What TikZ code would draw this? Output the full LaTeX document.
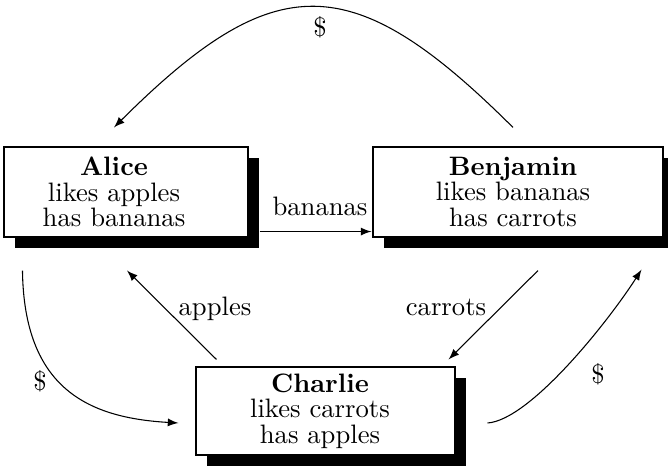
\documentclass[tikz,border=0pt]{standalone}
\usetikzlibrary{shadows}
\begin{document}
\begin{tikzpicture}[x=0.375pt,y=-0.375pt,
  box/.style={draw, fill=white, line width=0.4pt, inner sep=0pt,
    drop shadow={shadow xshift=4.125pt, shadow yshift=-4.125pt, opacity=1, fill=black}},
  txt/.style={align=center, font=\fontsize{10pt}{9.5pt}\selectfont, inner sep=0pt},
  lbl/.style={font=\fontsize{10pt}{9.5pt}\selectfont, inner sep=0pt},
  arr/.style={-latex, line width=0.4pt}]
\useasboundingbox (0,0) rectangle (668,468);
% boxes
\node[box, minimum width=91.5pt, minimum height=33.75pt] (alice) at (126,192) {};
\node[box, minimum width=108.75pt, minimum height=33.75pt] (benjamin) at (518,192) {};
\node[box, minimum width=97.125pt, minimum height=33pt] (charlie) at (325.5,411) {};
% texts
\node[txt] (alicetxt) at (114,192) {\textbf{Alice}\\likes apples\\has bananas};
\node[txt] (benjamintxt) at (513,192) {\textbf{Benjamin}\\likes bananas\\has carrots};
\node[txt] (charlietxt) at (320,411) {\textbf{Charlie}\\likes carrots\\has apples};
% connectors
\draw[arr] ([shift={(-5,-19)}]benjamin.north) .. controls (352,-33) and (275,-33) .. ([shift={(-12,-19)}]alice.north);
\draw[arr] ([shift={(11,-6)}]alice.south east) -- ([shift={(-1,-6)}]benjamin.south west);
\draw[arr] ([shift={(21,-7)}]charlie.north west) -- ([shift={(1,33)}]alice.south);
\draw[arr] ([shift={(20,33)}]benjamin.south) -- ([shift={(-7,-7)}]charlie.north east);
\draw[arr] ([shift={(19,33)}]alice.south west) .. controls (24,390) and (90,418) .. ([shift={(-17,12)}]charlie.west);
\draw[arr] ([shift={(32,12)}]charlie.east) .. controls (530,420) and (608,322) .. ([shift={(-22,32)}]benjamin.south east);
% labels
\node[lbl] (dtop) at (320,27) {\$};
\node[lbl, anchor=base] (lbananas) at (320,216) {bananas};
\node[lbl, anchor=base] (lapples) at (215,316) {apples};
\node[lbl, anchor=base] (lcarrots) at (446,316) {carrots};
\node[lbl] (dleft) at (40,381) {\$};
\node[lbl] (dright) at (598,374) {\$};
\end{tikzpicture}
\end{document}
